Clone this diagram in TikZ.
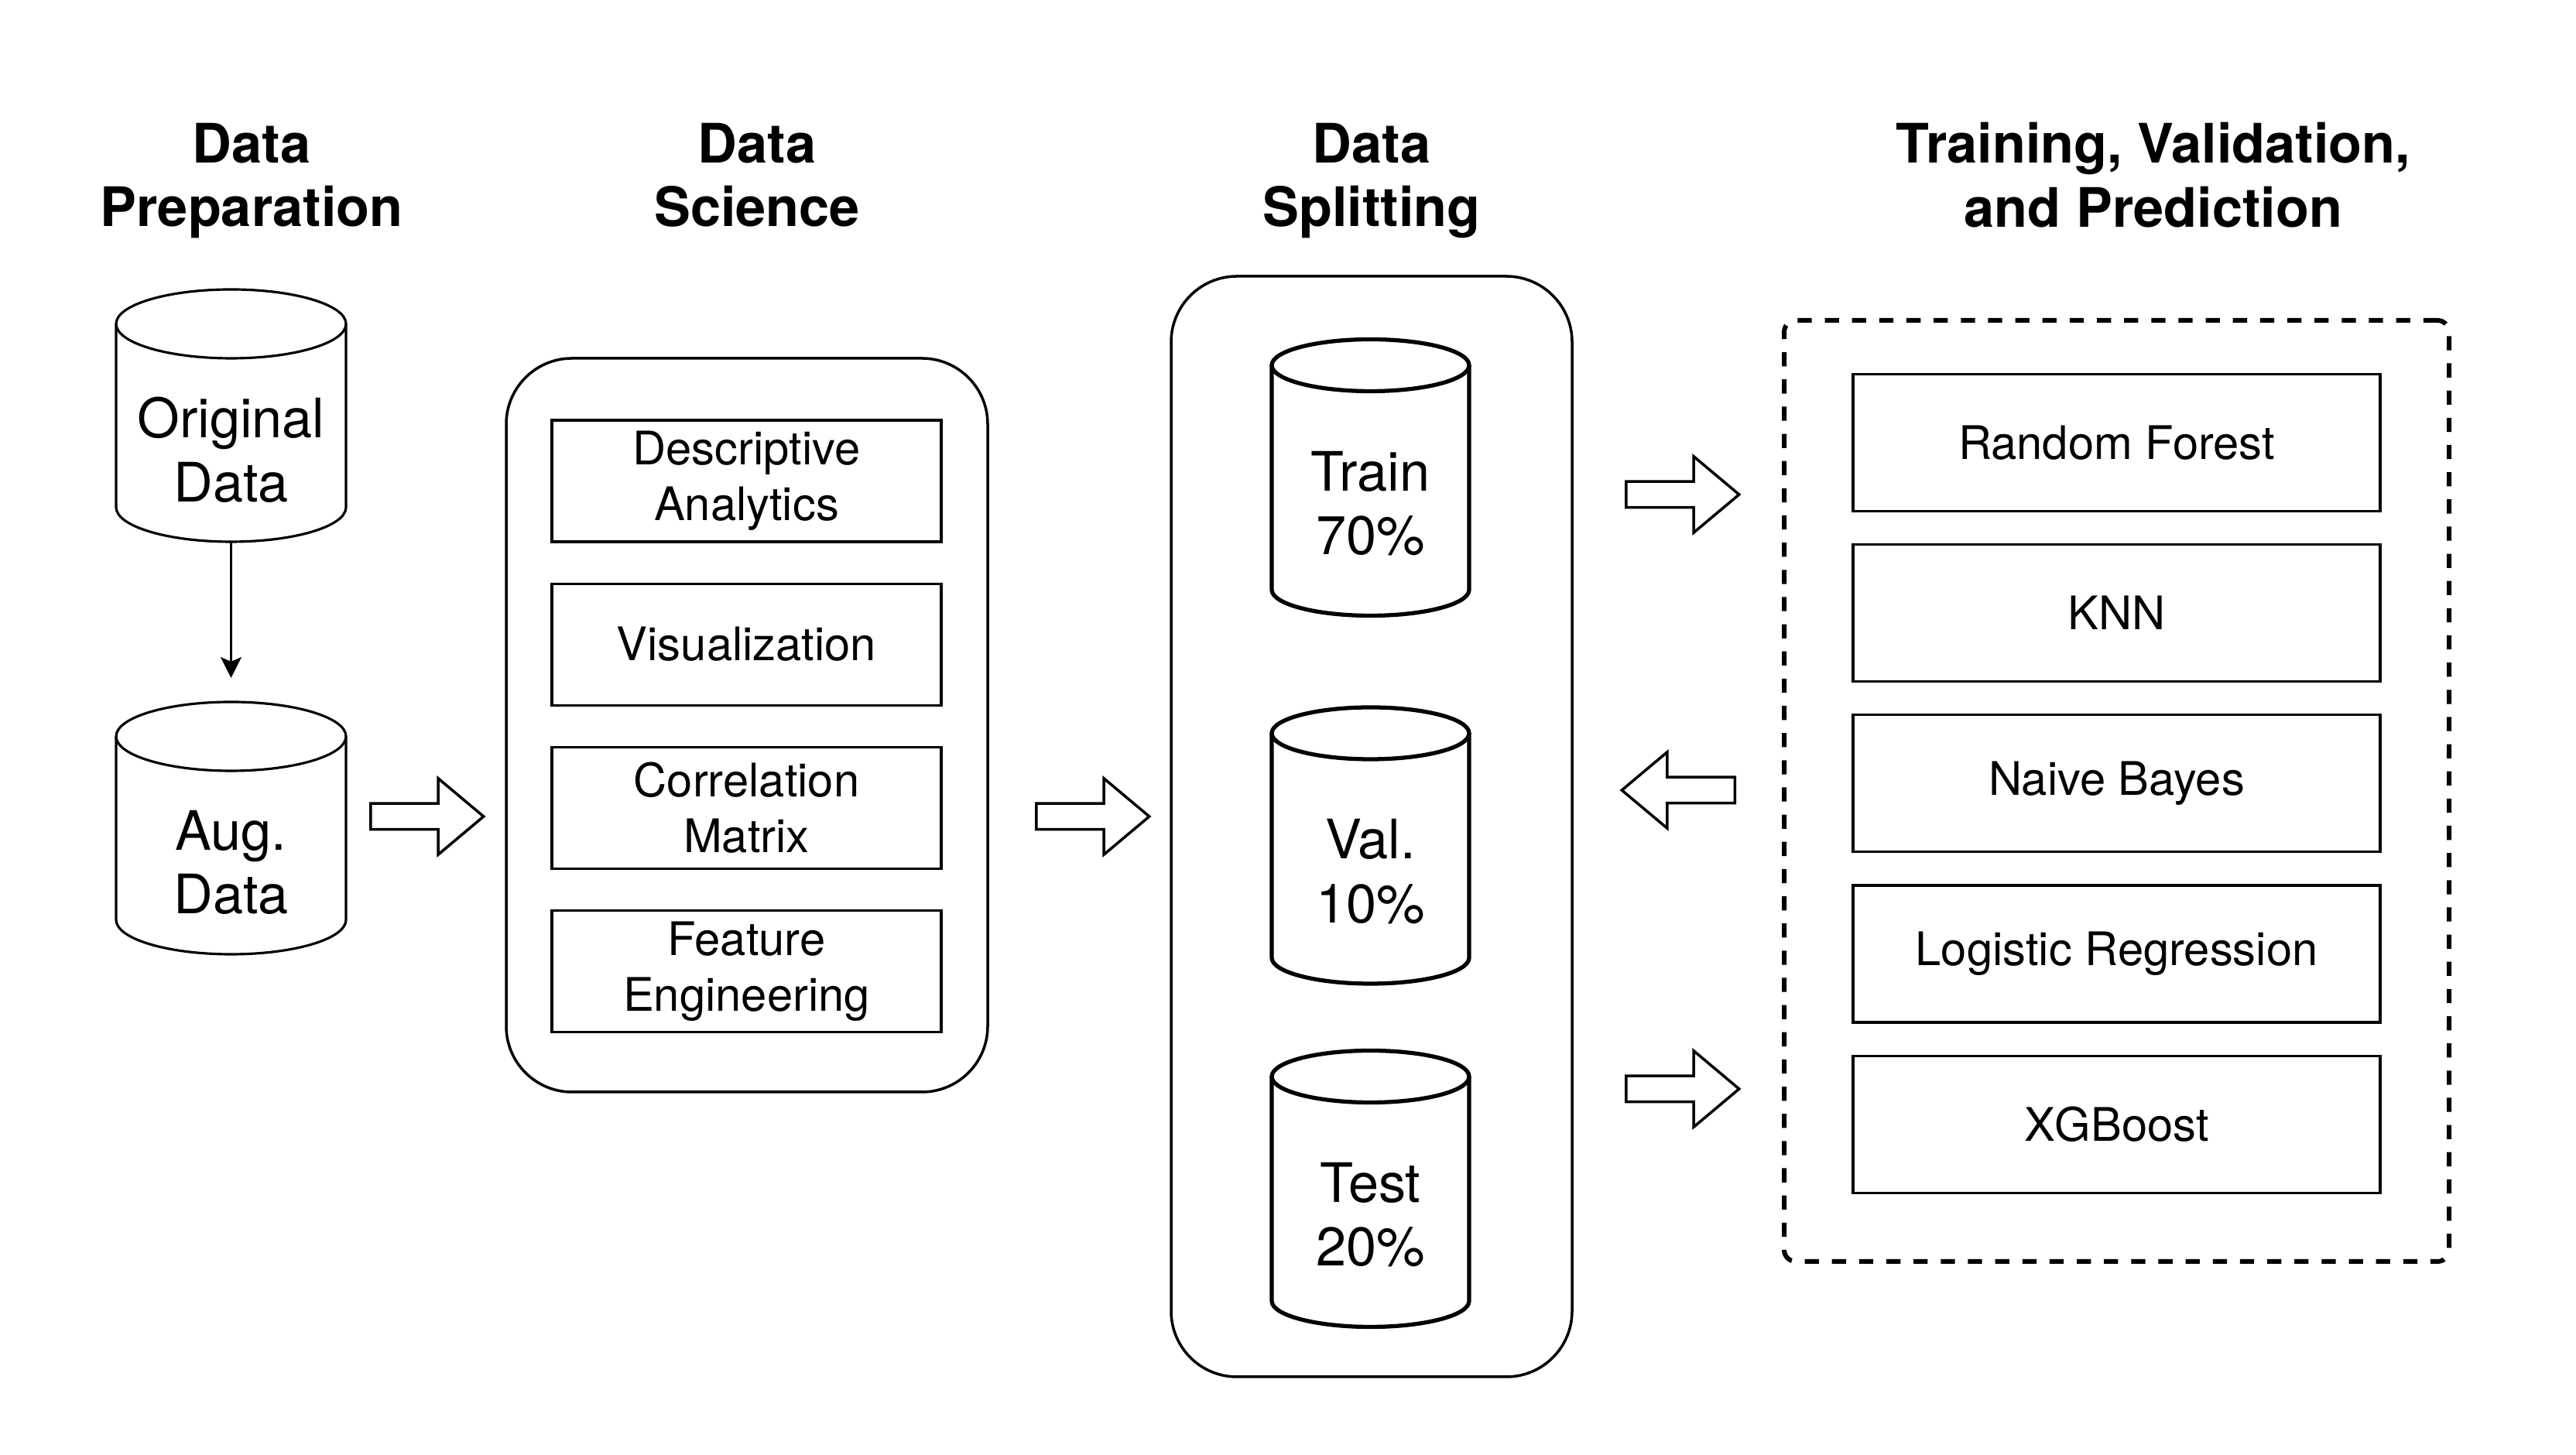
\documentclass[tikz,border=0pt]{standalone}
\usepackage{fontspec}
\setmainfont{TeX Gyre Heros}
\usetikzlibrary{positioning,calc,shapes.arrows,arrows.meta}

% cylinder outline round a body node: options, node, x radius, y radius
\newcommand{\dbshape}[4][]{%
  \draw[#1] ($(#2.north west)+(0,#4)$) -- ($(#2.south west)+(0,#4)$)
    arc[start angle=180,end angle=360,x radius=#3,y radius=#4]
    -- ($(#2.north east)+(0,#4)$);
  \draw[#1] ($(#2.north)+(0,#4)$) ellipse[x radius=#3,y radius=#4];
}

\begin{document}
\begin{tikzpicture}[
  title/.style={font=\fontsize{20}{23.5}\selectfont\bfseries,align=center,text depth=0pt},
  db/.style={minimum width=2.97cm,minimum height=2.37cm,inner sep=0pt,outer sep=0pt,align=center,font=\fontsize{20}{23.5}\selectfont},
  splitdb/.style={db,minimum width=2.55cm,minimum height=2.90cm},
  panel/.style={draw=black,line width=1pt,rounded corners=0.85cm},
  task/.style={draw=black,line width=0.9pt,minimum width=5.03cm,minimum height=1.57cm,align=center,font=\fontsize{17}{20.5}\selectfont},
  model/.style={task,minimum width=6.81cm,minimum height=1.77cm},
  bigarrow/.style={single arrow,draw=black,line width=1pt,minimum height=1.46cm,inner sep=0.15cm,single arrow head extend=0.325cm,single arrow tip angle=80,anchor=tail}
]
\useasboundingbox (0,0) rectangle (33.28,18.8);

% column titles
\node[title] (tprep) at (3.25,16.54) {Data\\Preparation};
\node[title] (tsci) at (9.78,16.54) {Data\\Science};
\node[title] (tspl) at (17.72,16.54) {Data\\Splitting};
\node[title] (ttrain) at (27.82,16.54) {Training, Validation,\\and Prediction};

% data preparation
\node[db] (orig) at (2.985,12.985) {Original\\Data};
\node[db] (aug) at (2.985,7.655) {Aug.\\Data};
\dbshape[line width=0.9pt]{orig}{1.485}{0.445}
\dbshape[line width=0.9pt]{aug}{1.485}{0.445}
\coordinate (augtop) at ($(aug.north)+(0,0.89)$);
\draw[-{Stealth[length=0.27cm,width=0.27cm,inset=0.06cm]},line width=0.9pt,shorten >=0.31cm] (orig.south) -- (augtop);

% data science
\node[panel,minimum width=6.22cm,minimum height=9.48cm] (sci) at (9.65,9.43) {};
\node[task] (desc) at (9.645,12.585) {Descriptive\\Analytics};
\node[task,below=0.51cm of desc] (vis) {Visualization};
\node[task,below=0.51cm of vis] (corr) {Correlation\\Matrix};
\node[task,below=0.51cm of corr] (feat) {Feature\\Engineering};

% data splitting
\node[panel,minimum width=5.18cm,minimum height=14.22cm] (spl) at (17.72,8.12) {};
\node[splitdb] (train) at (17.705,12.295) {Train\\70\%};
\node[splitdb] (val) at (17.705,7.54) {Val.\\10\%};
\node[splitdb] (test) at (17.705,3.105) {Test\\20\%};
\dbshape[line width=1.5pt]{train}{1.275}{0.335}
\dbshape[line width=1.5pt]{val}{1.275}{0.335}
\dbshape[line width=1.5pt]{test}{1.275}{0.335}

% models
\node[draw=black,line width=1.7pt,dash pattern=on 5.2pt off 4.8pt,rounded corners=0.15cm,minimum width=8.59cm,minimum height=12.16cm] (models) at (27.345,8.58) {};
\node[model] (rf) at (27.345,13.08) {Random Forest};
\node[model,below=0.40cm of rf] (knn) {KNN};
\node[model,below=0.40cm of knn] (nb) {Naive Bayes};
\node[model,below=0.40cm of nb] (lr) {Logistic Regression};
\node[model,below=0.40cm of lr] (xgb) {XGBoost};

% block arrows
\node[bigarrow] (a1) at (4.77,8.25) {};
\node[bigarrow] (a2) at (13.37,8.25) {};
\node[bigarrow] (a3) at (20.99,12.41) {};
\node[bigarrow,shape border rotate=180] (a4) at (22.43,8.59) {};
\node[bigarrow] (a5) at (20.99,4.73) {};
\end{tikzpicture}
\end{document}
